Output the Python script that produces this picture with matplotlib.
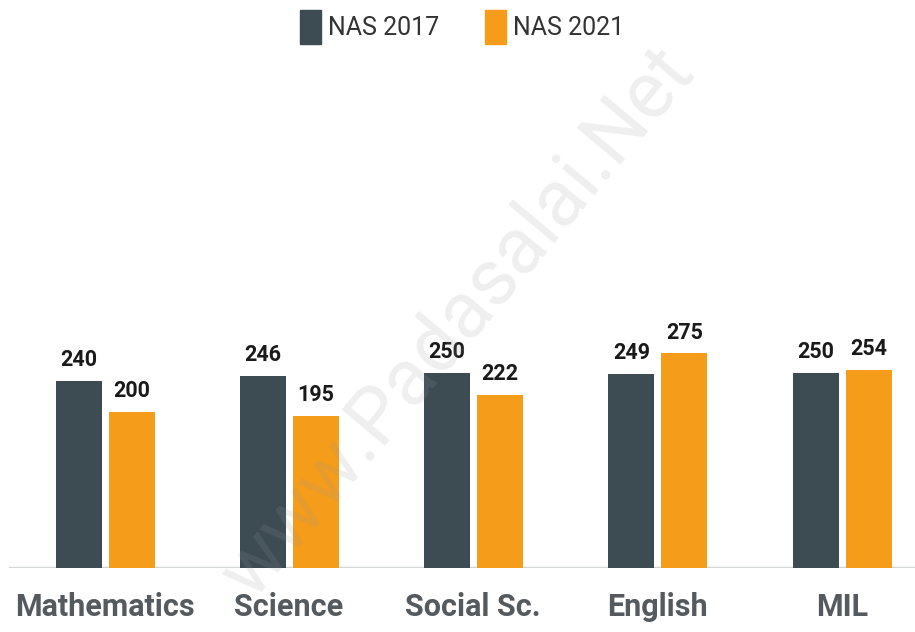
import matplotlib.pyplot as plt
from matplotlib.patches import Patch
import numpy as np

# ---------- data ----------
subjects = ["Mathematics", "Science", "Social Sc.", "English", "MIL"]
nas_2017 = [240, 246, 250, 249, 250]
nas_2021 = [200, 195, 222, 275, 254]
series_names = ["NAS 2017", "NAS 2021"]

dark = "#3d4b53"
orange = "#f59c1a"
fam = ["Roboto", "DejaVu Sans"]

fig = plt.figure(figsize=(9.15, 6.32), dpi=100)
ax = fig.add_axes([0, (632 - 568) / 632, 1, 568 / 632])
ax.set_xlim(0, 915)
ax.set_ylim(0, 728)

x = 104.5 + np.arange(len(subjects)) * 184.3
w = 46
b1 = ax.bar(x - 26, nas_2017, width=w, color=dark, zorder=2)
b2 = ax.bar(x + 27, nas_2021, width=w, color=orange, zorder=2)

for bars in (b1, b2):
    for rect in bars:
        ax.annotate(f"{rect.get_height():.0f}",
                    (rect.get_x() + rect.get_width() / 2, rect.get_height()),
                    xytext=(0, 7), textcoords="offset points",
                    ha="center", va="bottom", fontsize=15.5, fontweight="bold",
                    color="#1a1a1a", family=fam)

ax.axhline(0, xmin=10 / 915, xmax=1, color="#d4d6d8", lw=2.5, zorder=1)

ax.set_xticks(x)
ax.set_xticklabels(subjects, fontsize=22, fontweight="bold", color="#555a5e", family=fam)
ax.tick_params(axis="x", length=0, pad=17)
ax.set_yticks([])
for s in ax.spines.values():
    s.set_visible(False)

handles = [Patch(color=dark), Patch(color=orange)]
fig.legend(handles, series_names, loc="upper center", bbox_to_anchor=(0.505, 1.02),
           ncol=2, frameon=False, prop={"family": fam, "size": 18},
           handlelength=0.85, handleheight=1.7, handletextpad=0.3, columnspacing=1.8,
           labelcolor="#333333")

# watermark
fig.text(0.5, 0.49, "www.Padasalai.Net", fontsize=57, color="#9a9a9a", alpha=0.16,
         rotation=50, ha="center", va="center", family=fam, zorder=10)

fig.savefig("out.png", dpi=100)
